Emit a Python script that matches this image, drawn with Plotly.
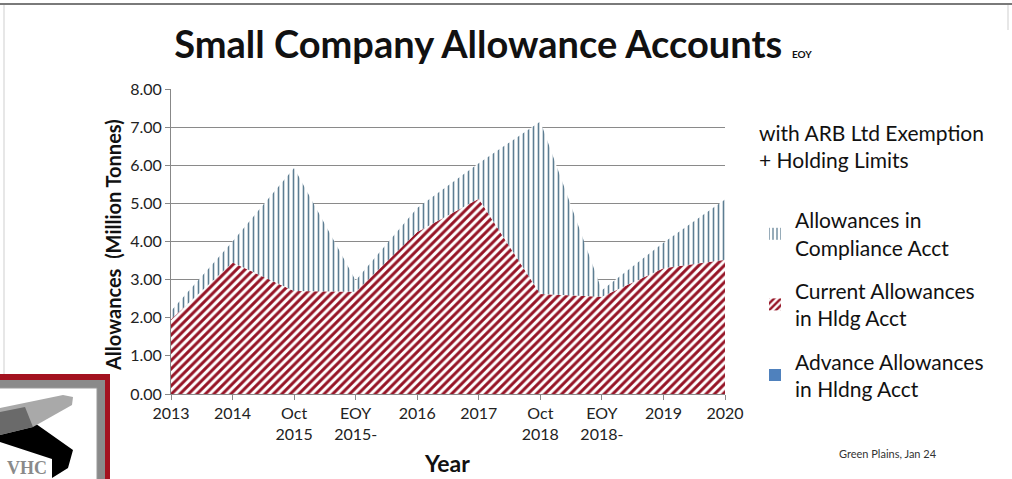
import plotly.graph_objects as go

categories = ["2013", "2014", "Oct<br>2015", "EOY<br>2015-", "2016", "2017",
              "Oct<br>2018", "EOY<br>2018-", "2019", "2020"]
advance = [0, 0, 0, 0, 0, 0, 0, 0, 0, 0]
current = [1.96, 3.45, 2.70, 2.68, 4.25, 5.12, 2.62, 2.55, 3.30, 3.52]
compliance = [0.22, 0.55, 3.23, 0.30, 0.63, 0.93, 4.53, 0.17, 0.67, 1.58]
series_names = ["Allowances in<br>Compliance Acct",
                "Current Allowances<br>in Hldg Acct",
                "Advance Allowances<br>in Hldng Acct"]
ytick_vals = [0, 1, 2, 3, 4, 5, 6, 7, 8]

W, H = 1012, 479
L, R, T, B = 171, 725, 89, 394
FONT = "Lato"
RED = "#961426"
BLUEGRAY = "#5d7d92"
ADV = "#4F81BD"


def px(x):
    return (x - L) / (R - L)


def py(y):
    return (B - y) / (B - T)


red_pat = dict(shape="/", fgcolor=RED, bgcolor="white", size=6,
               solidity=0.5, fgopacity=1)
blue_pat = dict(shape="|", fgcolor=BLUEGRAY, bgcolor="white", size=5,
                solidity=0.32, fgopacity=1)

fig = go.Figure()
# stacked areas (bottom to top)
fig.add_trace(go.Scatter(
    x=categories, y=advance, name=series_names[2], showlegend=False,
    stackgroup="s", mode="lines", line=dict(width=0, color=ADV),
    fillcolor=ADV))
fig.add_trace(go.Scatter(
    x=categories, y=current, name=series_names[1], showlegend=False,
    stackgroup="s", mode="lines", line=dict(width=0, color=RED),
    fillcolor="white", fillpattern=red_pat))
fig.add_trace(go.Scatter(
    x=categories, y=compliance, name=series_names[0], showlegend=False,
    stackgroup="s", mode="lines", line=dict(width=0, color=BLUEGRAY),
    fillcolor="white", fillpattern=blue_pat))

# legend keys (square swatches like the original)
for i, (nm, mk) in enumerate([
        (series_names[0], dict(color="white", pattern=blue_pat, line=dict(width=0))),
        (series_names[1], dict(color="white", pattern=red_pat, line=dict(width=0))),
        (series_names[2], dict(color=ADV, line=dict(width=0)))]):
    fig.add_trace(go.Bar(x=[None], y=[None], name=nm, marker=mk,
                         legendgroup=f"g{i}", showlegend=True))


def path(points):
    return "M " + " L ".join(f"{px(a):.4f},{py(b):.4f}" for a, b in points) + " Z"


shapes = [
    dict(type="line", xref="paper", yref="paper", x0=px(0), x1=px(W),
         y0=py(4), y1=py(4), line=dict(color="#7a7a7a", width=2)),
    dict(type="line", xref="paper", yref="paper", x0=px(4), x1=px(4),
         y0=py(5), y1=py(374), line=dict(color="#cfcfcf", width=1)),
    dict(type="line", xref="paper", yref="paper", x0=px(1008), x1=px(1008),
         y0=py(5), y1=py(30), line=dict(color="#cfcfcf", width=1)),
    # logo frame
    dict(type="rect", xref="paper", yref="paper", x0=px(-5), x1=px(110),
         y0=py(374), y1=py(490), fillcolor="#A3121F", line=dict(width=0)),
    dict(type="rect", xref="paper", yref="paper", x0=px(-5), x1=px(105),
         y0=py(380), y1=py(490), fillcolor="#8a8a8a", line=dict(width=0)),
    dict(type="rect", xref="paper", yref="paper", x0=px(-5), x1=px(97),
         y0=py(388), y1=py(490), fillcolor="white",
         line=dict(color="#9a9a9a", width=1)),
    dict(type="path", xref="paper", yref="paper",
         path=path([(0, 417), (22, 414), (73, 450), (68, 468), (52, 478),
                    (52, 459), (0, 442)]),
         fillcolor="black", line=dict(width=0)),
    dict(type="path", xref="paper", yref="paper",
         path=path([(0, 408), (63, 395), (73, 397), (72, 405), (33, 427),
                    (0, 435)]),
         fillcolor="#a9a9a9", line=dict(width=0)),
    dict(type="path", xref="paper", yref="paper",
         path=path([(0, 412), (25, 407), (33, 427), (0, 435)]),
         fillcolor="#6a6a6a", line=dict(width=0)),
]

annotations = [
    dict(text="<b>Allowances&nbsp;&nbsp;(Million Tonnes)</b>", xref="paper",
         yref="paper", x=px(113), y=py(245), xanchor="center",
         yanchor="middle", textangle=-90, showarrow=False,
         font=dict(family=FONT, size=20, color="#111")),
    dict(text="<b>Year</b>", xref="paper", yref="paper", x=px(447),
         y=py(463), xanchor="center", yanchor="middle", showarrow=False,
         font=dict(family=FONT, size=23, color="#111")),
    dict(text="with ARB Ltd Exemption<br>+ Holding Limits", xref="paper",
         yref="paper", x=px(757), y=py(146), xanchor="left",
         yanchor="middle", align="left", showarrow=False,
         font=dict(family=FONT, size=21, color="#111")),
    dict(text="Green Plains, Jan 24", xref="paper", yref="paper", x=px(837),
         y=py(453), xanchor="left", yanchor="middle", showarrow=False,
         font=dict(family=FONT, size=11, color="#333")),
    dict(text="<b>VHC</b>", xref="paper", yref="paper", x=px(27),
         y=py(468), xanchor="center", yanchor="middle", showarrow=False,
         font=dict(family="Liberation Serif", size=18, color="#8a8a8a")),
]

fig.update_layout(
    width=W, height=H,
    margin=dict(l=L, r=W - R, t=T, b=H - B),
    paper_bgcolor="white", plot_bgcolor="white",
    title=dict(
        text="<b>Small Company Allowance Accounts</b> <b><span style='font-size:10px'>EOY</span></b>",
        x=493 / W, xanchor="center", y=1 - 45 / H, yanchor="middle",
        font=dict(family=FONT, size=38, color="#111")),
    xaxis=dict(type="category", range=[0, 9], showgrid=False,
               showline=True, linecolor="#888", linewidth=1,
               ticks="outside", ticklen=5, tickcolor="#888",
               tickfont=dict(family=FONT, size=16, color="#222")),
    yaxis=dict(range=[0, 8], tickvals=ytick_vals, tickformat=".2f",
               showgrid=True, gridcolor="#8a8a8a", gridwidth=1,
               showline=True, linecolor="#888", linewidth=1,
               ticks="outside", ticklen=5, tickcolor="#888", zeroline=False,
               tickfont=dict(family=FONT, size=16, color="#222")),
    legend=dict(x=px(755), y=py(200), xanchor="left", yanchor="top",
                traceorder="grouped", tracegroupgap=13,
                font=dict(family=FONT, size=21, color="#111"),
                bgcolor="rgba(0,0,0,0)", itemwidth=30),
    shapes=shapes, annotations=annotations,
)

fig.write_html("out.html")
